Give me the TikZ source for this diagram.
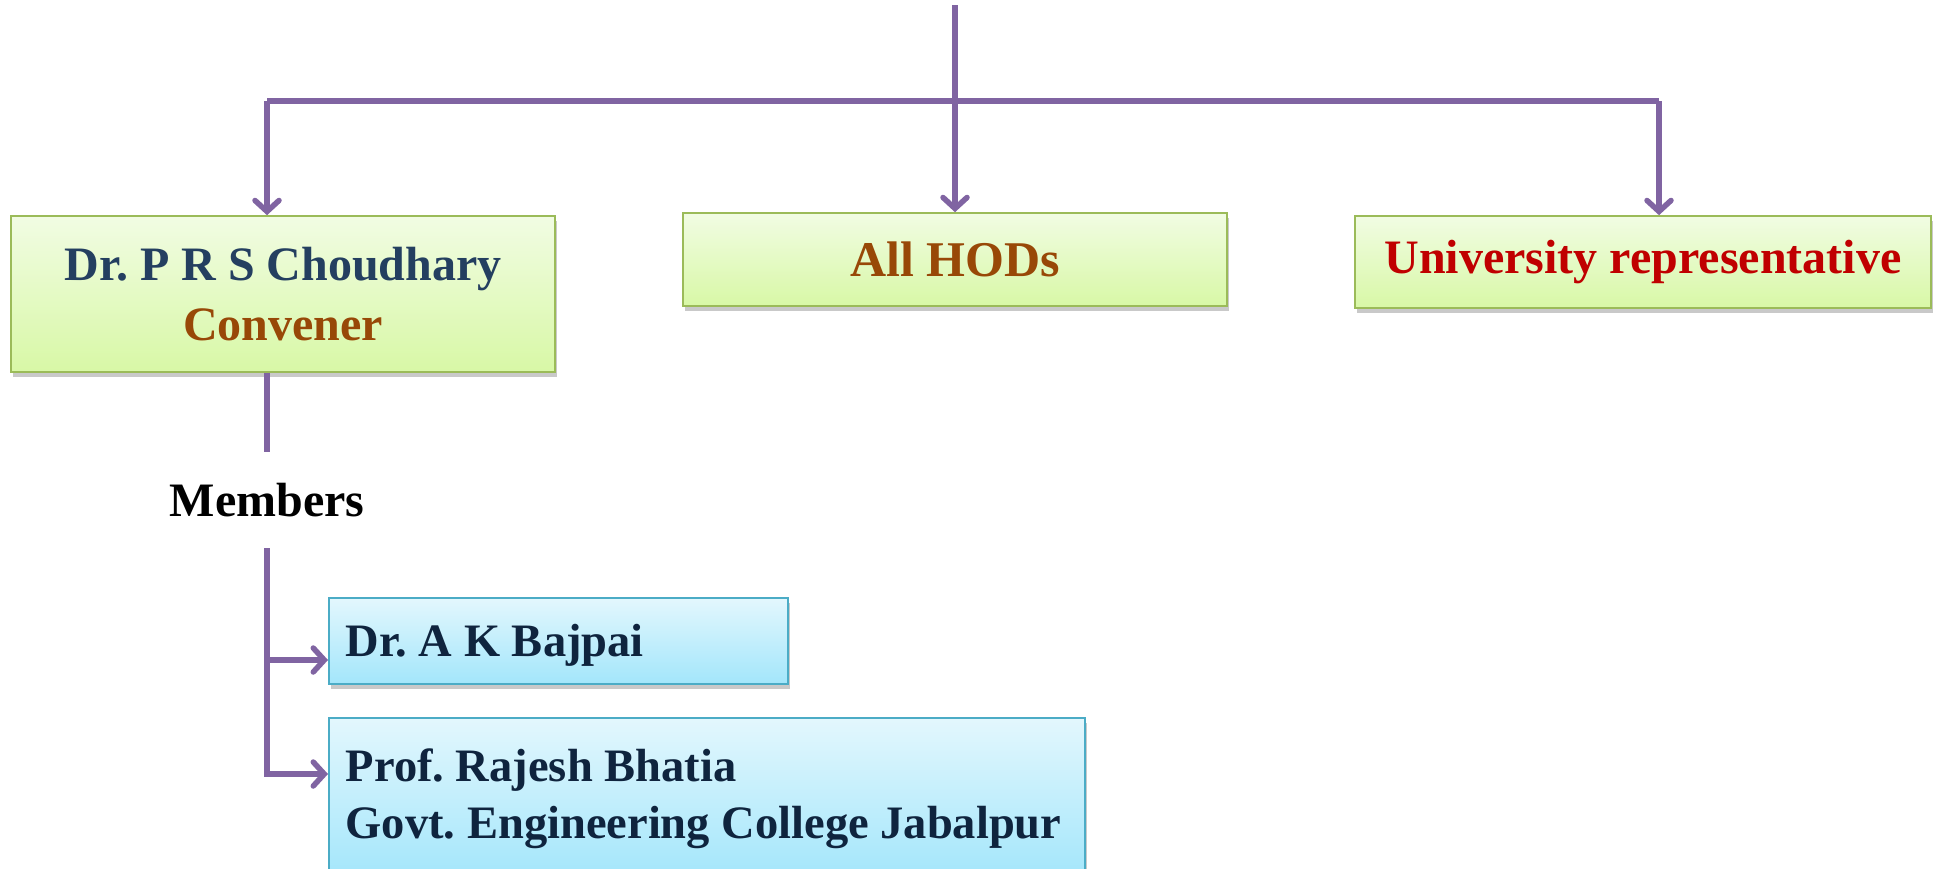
\documentclass[tikz,border=0pt]{standalone}
\usepackage{fontspec}
\setmainfont{Liberation Serif}
\usetikzlibrary{arrows.meta,shadows,calc}
\definecolor{lnpurple}{HTML}{8064A2}
\definecolor{grnborder}{HTML}{9BBB59}
\definecolor{grntop}{HTML}{F1FCE3}
\definecolor{grnbot}{HTML}{D8F8A6}
\definecolor{bluborder}{HTML}{4BACC6}
\definecolor{blutop}{HTML}{E3F7FD}
\definecolor{blubot}{HTML}{A3E6FB}
\definecolor{navy}{HTML}{243F60}
\definecolor{darknavy}{HTML}{0F243E}
\definecolor{brown}{HTML}{984807}
\definecolor{darkred}{HTML}{C00000}
\hyphenpenalty=10000
\exhyphenpenalty=10000
\frenchspacing
\begin{document}
\begin{tikzpicture}[x=1pt,y=-1pt,
  conn/.style={draw=lnpurple, line width=5.5pt},
  arr/.style={conn, -{Straight Barb[length=11pt,width=24pt,line cap=round]}},
  boxshadow/.style={drop shadow={shadow xshift=2pt, shadow yshift=-5pt, opacity=0.3, fill=black!70}},
  greenbox/.style={draw=grnborder, line width=1.6pt, top color=grntop, bottom color=grnbot,
    boxshadow, inner sep=0pt, align=center},
  bluebox/.style={draw=bluborder, line width=1.6pt, top color=blutop, bottom color=blubot,
    boxshadow, inner xsep=17pt, inner ysep=0pt, align=flush left},
  bigfont/.style={font=\bfseries\frenchspacing\fontsize{48}{60}\selectfont},
  memfont/.style={font=\bfseries\frenchspacing\fontsize{46.5}{57}\selectfont}
]
\useasboundingbox (0,0) rectangle (1933,868);

% boxes
\node[greenbox, bigfont, minimum width=544pt, minimum height=156pt] (prs) at (283,294)
  {\textcolor{navy}{Dr. P R S Choudhary}\\\textcolor{brown}{Convener}};
\node[greenbox, minimum width=544pt, minimum height=93pt, text=brown,
  font=\bfseries\fontsize{50}{60}\selectfont] (hod) at (955,259.5) {All HODs};
\node[greenbox, bigfont, minimum width=576pt, minimum height=92pt, text=darkred] (uni) at (1643,262)
  {University representative};

\node[bigfont, text=black] (mem) at (267,500) {Members};

\node[bluebox, memfont, text=darknavy, text width=425pt, minimum height=86pt, text depth=0pt,
  anchor=north west] (baj) at (328,597) {Dr. A K Bajpai};
\node[bluebox, memfont, text=darknavy, text width=722pt, minimum height=161pt, anchor=north west]
  (bha) at (328,717) {Prof. Rajesh Bhatia\\Govt. Engineering College Jabalpur};

% connectors
\coordinate (top) at (955,5);
\coordinate (bar) at (955,101);
\coordinate (barL) at (267,101);
\coordinate (barR) at (1659,101);
\draw[conn] (top) -- (bar);
\draw[conn] (barL) -- (barR);
\draw[arr] (barL) -- (barL |- prs.north);
\draw[arr] (bar) -- (hod.north);
\draw[arr] (barR) -- (barR |- uni.north);

\coordinate (memtop) at (267,452);
\coordinate (membot) at (267,551);
\draw[conn] (prs.south -| memtop) -- (memtop);
\coordinate (bajin) at (328,660);
\coordinate (bhain) at (328,774);
\draw[conn, line cap=rect] (membot) -- (membot |- bhain);
\draw[arr] (membot |- bajin) -- (bajin);
\draw[arr] (membot |- bhain) -- (bhain);
\end{tikzpicture}
\end{document}
